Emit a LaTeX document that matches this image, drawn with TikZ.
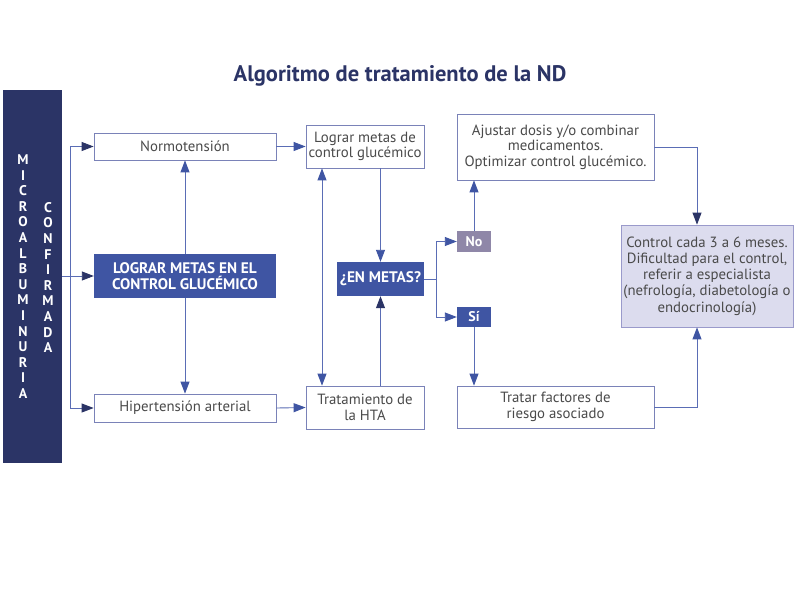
\documentclass[tikz,border=0pt]{standalone}
\usepackage{fontspec}
\setmainfont{PT Sans}
\usetikzlibrary{arrows.meta,calc}
\definecolor{navy}{HTML}{2B3466}
\definecolor{mblue}{HTML}{3F55A3}
\definecolor{lline}{HTML}{5A6DB5}
\definecolor{bord}{HTML}{7A82B8}
\definecolor{txt}{HTML}{4A4A4A}
\definecolor{nobox}{HTML}{8F87A8}
\definecolor{lav}{HTML}{DCDCEE}
\definecolor{lavb}{HTML}{9A9ACB}
\tikzset{
  wbox/.style={draw=bord,line width=0.8pt,fill=white,text=txt,align=center,inner sep=0pt,font=\fontsize{14.8}{15.5}\selectfont},
  bbox/.style={draw=none,fill=mblue,text=white,align=center,inner sep=0pt,font=\bfseries\fontsize{15.3}{16}\selectfont},
  arr/.style={draw=lline,line width=0.9pt,-{Triangle[length=12pt,width=9pt,color=mblue]}},
  darr/.style={draw=lline,line width=0.9pt,-{Triangle[length=12pt,width=9pt,color=navy]}},
  ln/.style={draw=lline,line width=0.9pt},
  vlet/.style={text=white,font=\bfseries\fontsize{14}{15.6}\selectfont,align=center,inner sep=0pt}
}
\begin{document}
\begin{tikzpicture}[x=1pt,y=-1pt]
\useasboundingbox (0,0) rectangle (800,600);
\fill[white] (0,0) rectangle (800,600);
% title
\node[text=navy,font=\bfseries\fontsize{22.5}{22.5}\selectfont,anchor=base] (title) at (400,81) {Algoritmo de tratamiento de la ND};
% left bar
\node[fill=navy,minimum width=59pt,minimum height=373pt,inner sep=0pt] (bar) at (32.5,276.5) {};
\node[vlet] (micro) at (23,276.5) {M\\I\\C\\R\\O\\A\\L\\B\\U\\M\\I\\N\\U\\R\\I\\A};
\node[vlet] (conf) at (48,277.5) {C\\O\\N\\F\\I\\R\\M\\A\\D\\A};
% boxes
\node[wbox,minimum width=182pt,minimum height=27pt] (normo) at (185,146.5) {Normotensión};
\node[bbox,minimum width=182pt,minimum height=44pt] (lograr) at (185,276) {LOGRAR METAS EN EL\\CONTROL GLUCÉMICO};
\node[wbox,minimum width=182pt,minimum height=28pt] (hiper) at (185,408) {Hipertensión arterial};
\node[wbox,minimum width=118pt,minimum height=43pt] (metas) at (365,146.5) {Lograr metas de\\control glucémico};
\node[wbox,minimum width=118pt,minimum height=43pt] (hta) at (365,407.5) {Tratamiento de\\la HTA};
\node[bbox,minimum width=87pt,minimum height=34pt] (enmetas) at (380.5,279) {¿EN METAS?};
\node[fill=nobox,text=white,font=\bfseries\fontsize{14}{14}\selectfont,minimum width=34pt,minimum height=21pt,inner sep=0pt] (no) at (474,241.5) {No};
\node[fill=mblue,text=white,font=\bfseries\fontsize{14}{14}\selectfont,minimum width=34pt,minimum height=20pt,inner sep=0pt] (si) at (474,317) {Sí};
\node[wbox,minimum width=197pt,minimum height=66pt] (ajustar) at (555.5,147) {Ajustar dosis y/o combinar\\medicamentos.\\Optimizar control glucémico.};
\node[wbox,minimum width=197pt,minimum height=42pt] (tratar) at (555.5,407) {Tratar factores de\\riesgo asociado};
\node[wbox,draw=lavb,fill=lav,minimum width=172pt,minimum height=102pt,font=\fontsize{14.8}{16.2}\selectfont] (control) at (707,276) {Control cada 3 a 6 meses.\\Dificultad para el control,\\referir a especialista\\(nefrología, diabetología o\\endocrinología)};
% connectors
\coordinate (bk) at (70,277);
\draw[darr] (bar.east |- lograr) -- (lograr.west);
\draw[darr] (bk) |- (normo.west);
\draw[darr] (bk) |- (hiper.west);
\draw[arr] (lograr.north) -- (normo.south);
\draw[arr] (lograr.south) -- (hiper.north);
\draw[arr] (normo.east) -- (metas.west);
\draw[arr] (hiper.east) -- (hta.west);
\draw[ln,{Triangle[length=12pt,width=9pt,color=mblue]}-{Triangle[length=12pt,width=9pt,color=mblue]}] ([xshift=-43pt]metas.south) -- ([xshift=-43pt]hta.north);
\draw[arr] (metas.south -| enmetas.north) -- (enmetas.north);
\draw[darr] (hta.north -| enmetas.south) -- (enmetas.south);
\coordinate (sp) at (436,279);
\draw[ln] (enmetas.east) -- (sp);
\draw[arr] (sp) |- (no.west);
\draw[arr] (sp) |- (si.west);
\draw[arr] (no.north) -- (ajustar.south -| no.north);
\draw[arr] (si.south) -- (tratar.north -| si.south);
\coordinate (cx) at (697,276);
\draw[darr] (ajustar.east) -| (cx |- control.north);
\draw[arr] (tratar.east) -| (cx |- control.south);
\end{tikzpicture}
\end{document}
